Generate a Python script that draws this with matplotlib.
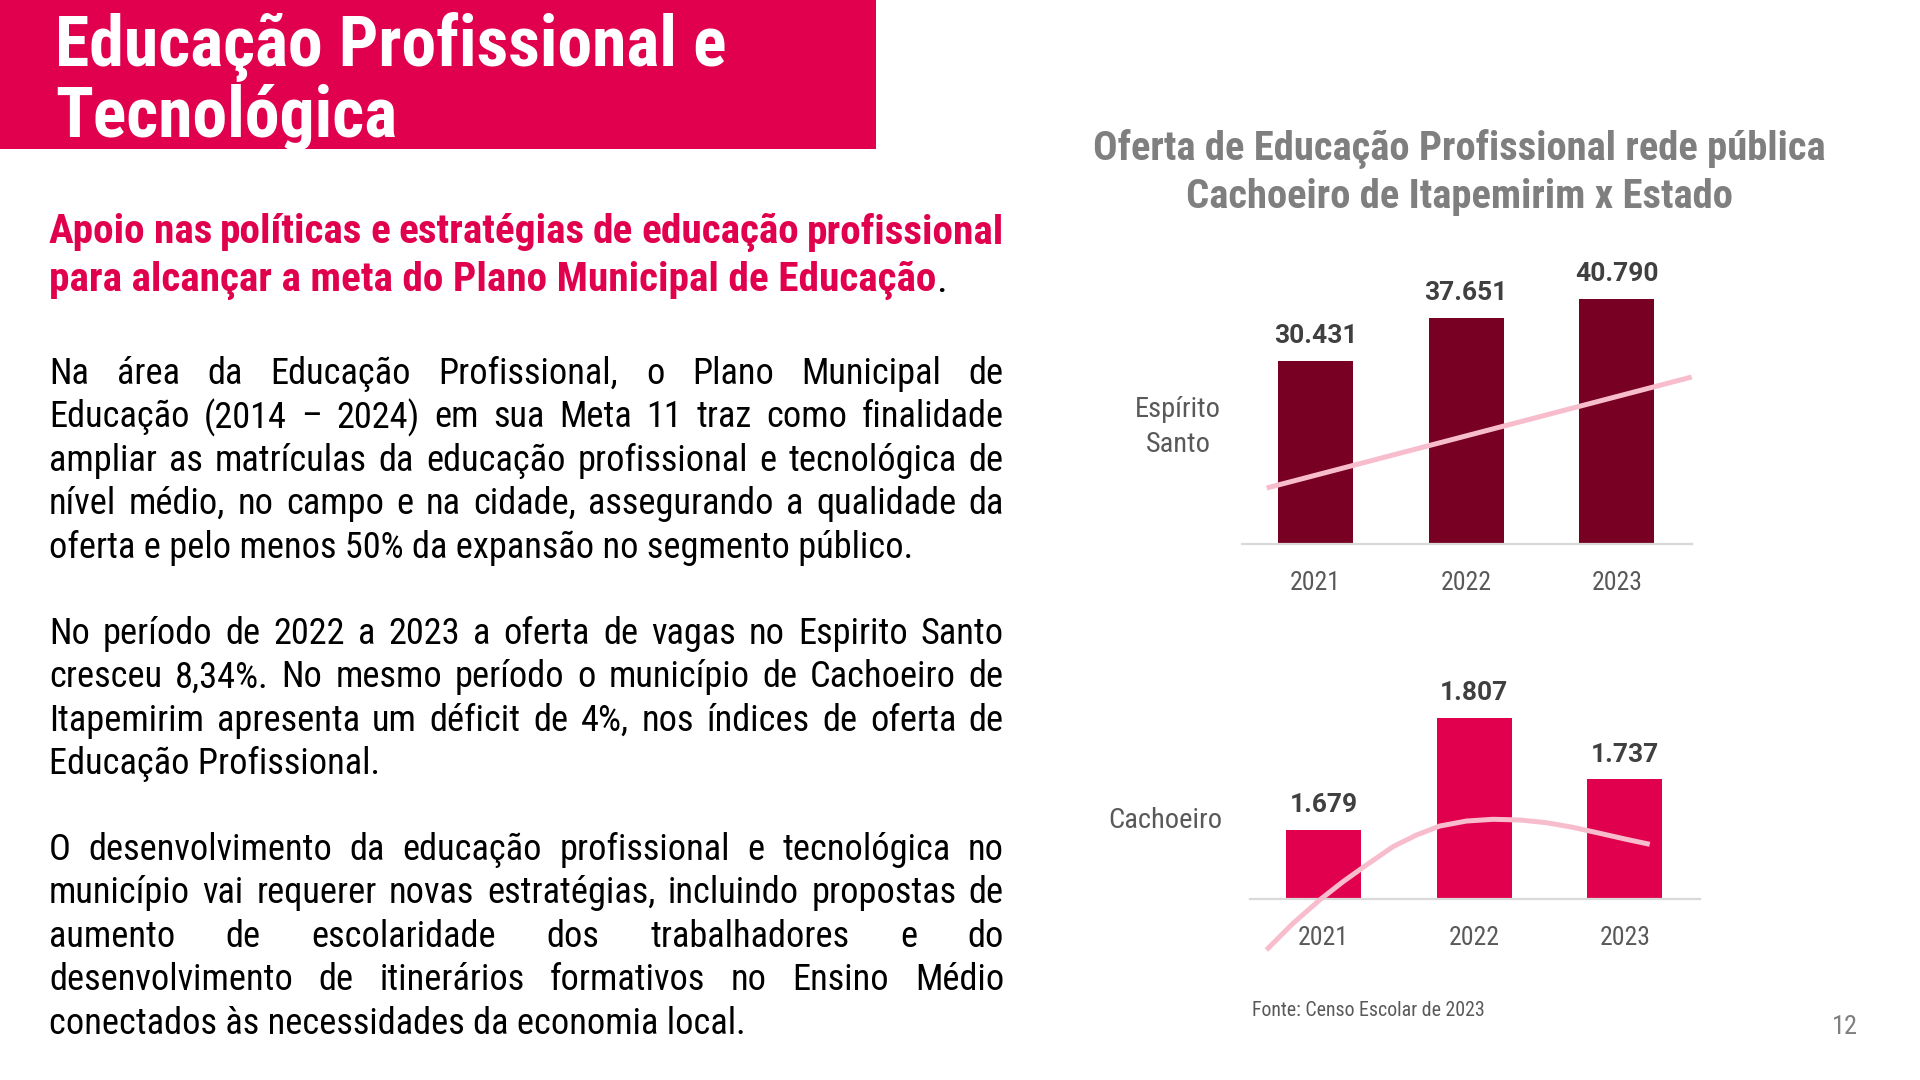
import matplotlib
matplotlib.use('Agg')
import matplotlib.pyplot as plt
from matplotlib import font_manager
from matplotlib.patches import Rectangle

W, H = 1920, 1080

# ---- data ----
years = ['2021', '2022', '2023']
es_values = [30431, 37651, 40790]
cach_values = [1679, 1807, 1737]
# decorative trend lines (data units of each panel)
es_trend_x = [-0.326, 2.498]
es_trend_y = [9312, 27770]
cach_curve_x = [-0.381, -0.204, -0.027, 0.128, 0.284, 0.460, 0.616, 0.771,
                0.948, 1.125, 1.302, 1.480, 1.656, 1.834, 2.011, 2.166]
cach_curve_y = [1541.7, 1572.2, 1598.9, 1619.8, 1638.9, 1659.8, 1673.1, 1683.4,
                1689.1, 1691.1, 1690.3, 1687.2, 1681.9, 1675.1, 1668.2, 1662.5]

title_lines = ['Educação Profissional e', 'Tecnológica']
sub_lines = ['Apoio nas políticas e estratégias de educação profissional',
             'para alcançar a meta do Plano Municipal de Educação']
paragraphs = [
    ['Na área da Educação Profissional, o Plano Municipal de',
     'Educação (2014 – 2024) em sua Meta 11 traz como finalidade',
     'ampliar as matrículas da educação profissional e tecnológica de',
     'nível médio, no campo e na cidade, assegurando a qualidade da',
     'oferta e pelo menos 50% da expansão no segmento público.'],
    ['No período de 2022 a 2023 a oferta de vagas no Espirito Santo',
     'cresceu 8,34%. No mesmo período o município de Cachoeiro de',
     'Itapemirim apresenta um déficit de 4%,  nos índices de oferta de',
     'Educação Profissional.'],
    ['O desenvolvimento da educação profissional e tecnológica no',
     'município vai requerer novas estratégias, incluindo propostas de',
     'aumento de escolaridade dos trabalhadores e do',
     'desenvolvimento de itinerários formativos no Ensino Médio',
     'conectados às necessidades da economia local.'],
]
chart_title = ['Oferta de Educação Profissional rede pública',
               'Cachoeiro de Itapemirim x Estado']

CRIMSON = '#E0004D'
MAROON = '#780022'
PINK = '#F7BDCD'
DARK = '#404040'
GRAY = '#595959'

# pick a condensed face if there is one
fonts = font_manager.fontManager.ttflist
names = {f.name for f in fonts}
COND = {'family': 'Roboto', 'stretch': 'normal'}
for n in ['Roboto Condensed', 'Liberation Sans Narrow', 'Open Sans Condensed']:
    if n in names:
        COND = {'family': n, 'stretch': 'normal'}
        break

fig = plt.figure(figsize=(W / 100, H / 100), dpi=100)
fig.patch.set_facecolor('white')
renderer = fig.canvas.get_renderer()


def fx(px):
    return px / W


def fy(py):
    return 1 - py / H


def text_width(s, **kw):
    t = fig.text(0, 0, s, **kw)
    w = t.get_window_extent(renderer).width
    t.remove()
    return w


def fit_size(s, target, **kw):
    return 20 * target / text_width(s, fontsize=20, **kw)


def justify(line, x0, x1, y, **kw):
    words = line.split()
    widths = [text_width(w, **kw) for w in words]
    gap = (x1 - x0 - sum(widths)) / (len(words) - 1)
    x = x0
    for w, wd in zip(words, widths):
        fig.text(fx(x), fy(y), w, va='center', ha='left', **kw)
        x += wd + gap


# ---- header ----
fig.patches.append(Rectangle((0, fy(149)), fx(876), 149 / H, transform=fig.transFigure,
                             facecolor=CRIMSON, edgecolor='none'))
ts = fit_size(title_lines[0], 671, weight='bold', **COND)
for line, y in zip(title_lines, [47, 117]):
    fig.text(fx(55), fy(y), line, color='white', fontsize=ts, weight='bold', va='center', **COND)

# ---- subtitle ----
ss = fit_size(sub_lines[1] + '.', 898, weight='bold', **COND)
justify(sub_lines[0], 49, 1004, 232, color=CRIMSON, fontsize=ss, weight='bold', **COND)
t = fig.text(fx(49), fy(280), sub_lines[1], color=CRIMSON, fontsize=ss, weight='bold', va='center', **COND)
wsub = t.get_window_extent(renderer).width
fig.text(fx(49 + wsub), fy(280), '.', color='black', fontsize=ss, va='center', **COND)

# ---- body ----
bs = fit_size(paragraphs[0][-1], 861, **COND)
starts = [374, 634, 850]
for para, y0 in zip(paragraphs, starts):
    for i, line in enumerate(para):
        y = y0 + i * 43.4
        if i < len(para) - 1:
            justify(line, 49, 1004, y, color='black', fontsize=bs, **COND)
        else:
            fig.text(fx(49), fy(y), line, color='black', fontsize=bs, va='center', **COND)

# ---- chart title ----
cs = fit_size(chart_title[0], 731, weight='bold', **COND)
for line, y in zip(chart_title, [149, 197]):
    fig.text(fx(1459), fy(y), line, color='#7F7F7F', fontsize=cs, weight='bold',
             ha='center', va='center', **COND)


def panel(left, right, bottom, top, values, ylim, color):
    ax = fig.add_axes([fx(left), fy(bottom), (right - left) / W, (bottom - top) / H])
    ax.bar(range(len(values)), values, width=0.5, color=color, zorder=2)
    ax.set_xlim(-0.49, 2.50)
    ax.set_ylim(*ylim)
    for s in ['top', 'left', 'right']:
        ax.spines[s].set_visible(False)
    ax.spines['bottom'].set_color('#D9D9D9')
    ax.spines['bottom'].set_linewidth(1.6)
    ax.spines['bottom'].set_zorder(3)
    ax.set_yticks([])
    ax.set_xticks(range(len(years)))
    ax.set_xticklabels(years, color=GRAY, fontsize=18.5, **COND)
    ax.tick_params(axis='x', length=0, pad=19.5)
    for i, v in enumerate(values):
        ax.annotate(f'{v:,}'.replace(',', '.'), (i, v), xytext=(0, 9), textcoords='offset points',
                    ha='center', va='bottom', fontsize=19, weight='bold', color=DARK,
                    family='Roboto', annotation_clip=False)
    ax.patch.set_alpha(0)
    return ax


ax1 = panel(1242, 1692, 544, 250, es_values, (0, 48886), MAROON)
ax1.plot(es_trend_x, es_trend_y, color=PINK, lw=3.6, solid_capstyle='butt', zorder=4, clip_on=False)
fig.text(fx(1178), fy(427), 'Espírito\nSanto', color=GRAY, fontsize=20.5, ha='center', va='center',
         linespacing=1.35, **COND)

ax2 = panel(1250, 1700, 899, 680, cach_values, (1600, 1850.3), CRIMSON)
ax2.plot(cach_curve_x, cach_curve_y, color=PINK, lw=3.6, solid_capstyle='butt',
         solid_joinstyle='round', zorder=4, clip_on=False)
fig.text(fx(1165), fy(820), 'Cachoeiro', color=GRAY, fontsize=20.5, ha='center', va='center', **COND)

fig.text(fx(1252), fy(1011), 'Fonte: Censo Escolar de 2023', color=GRAY, fontsize=14.3,
         ha='left', va='center', **COND)
fig.text(fx(1845), fy(1027), '12', color='#7F7F7F', fontsize=19, ha='center', va='center', **COND)

fig.savefig('out.png', dpi=100, facecolor='white')
